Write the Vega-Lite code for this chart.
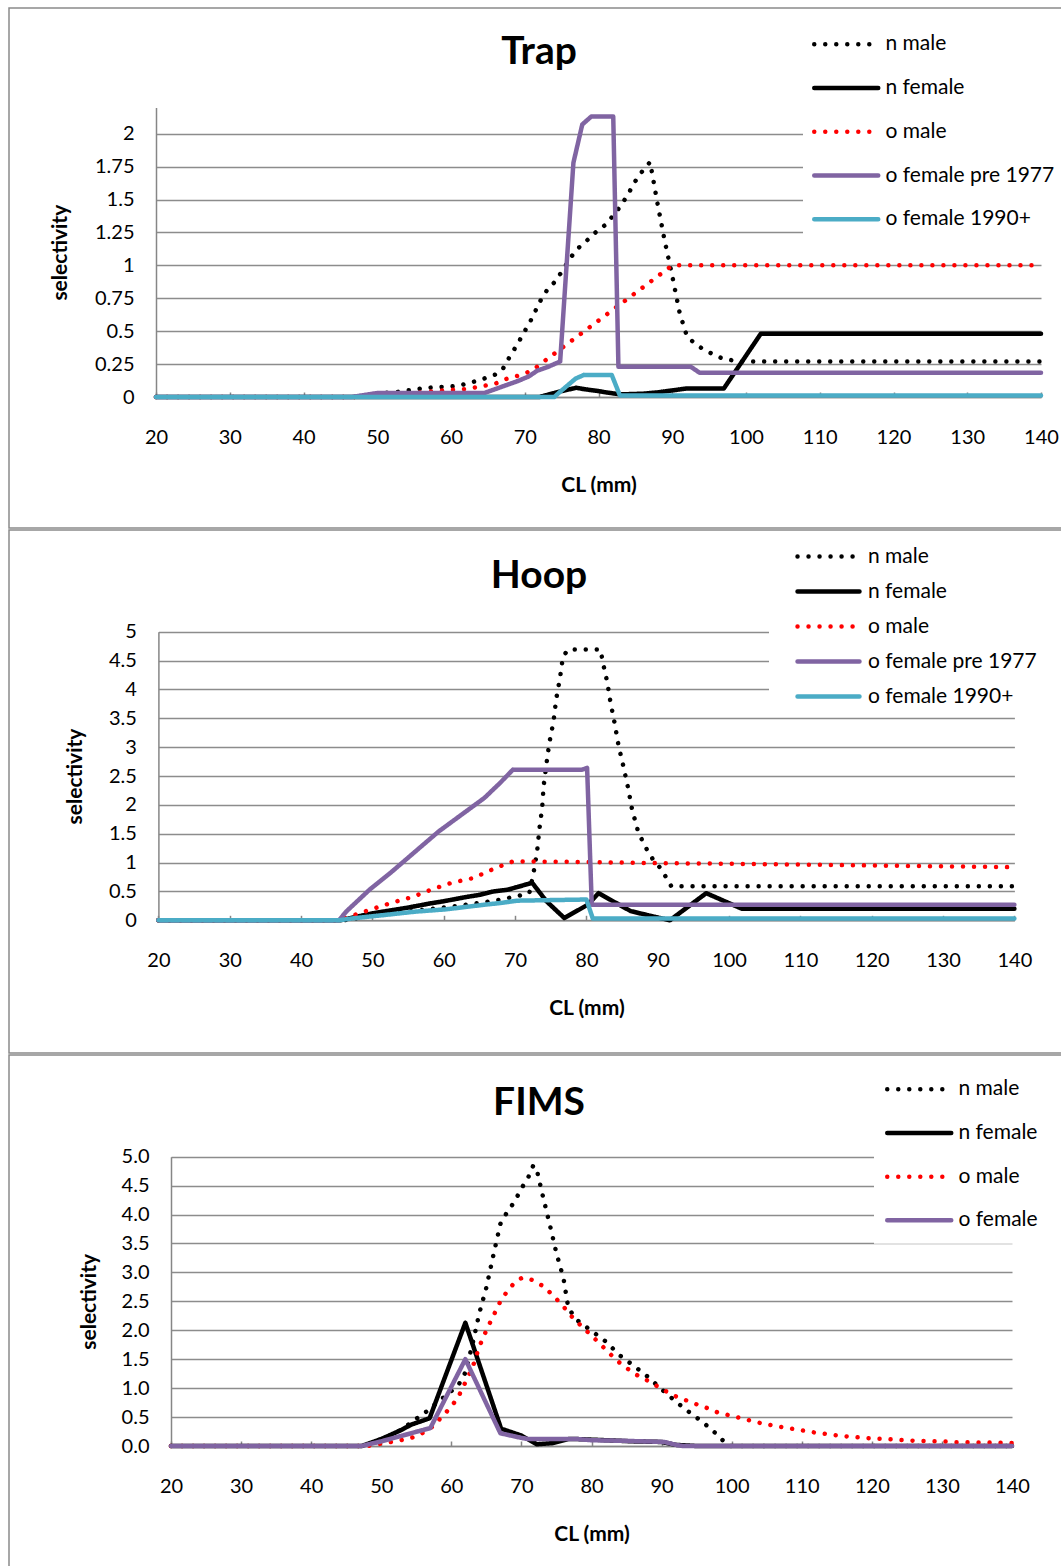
{
  "$schema": "https://vega.github.io/schema/vega-lite/v6.json",
  "background": "white",
  "padding": {"left": 8, "top": 7, "right": 0, "bottom": 0},
  "config": {
    "font": "Lato",
    "view": {"stroke": "#8a8a8a", "strokeWidth": 1.5},
    "concat": {"spacing": 0},
    "axis": {"labelFont": "Lato", "labelFontSize": 20, "labelColor": "#000000", "titleFont": "Lato", "titleFontSize": 21, "titleFontWeight": "bold", "titleColor": "#000000", "domainColor": "#868686", "domainWidth": 1.5, "gridColor": "#8c8c8c", "gridWidth": 1.3, "tickColor": "#868686", "tickWidth": 1.5},
    "legend": {"labelFont": "Lato", "labelFontSize": 21, "labelColor": "#000000", "labelLimit": 0, "fillColor": "white", "symbolType": "M-4,0H4", "symbolStrokeWidth": 4.5, "zindex": 1},
    "title": {"font": "Lato", "fontSize": 39, "fontWeight": "bold", "color": "#000000", "anchor": "middle", "frame": "group"}
  },
  "datasets": {
    "trap": [
      {"s":"n male","x":20,"y":0},{"s":"n male","x":47,"y":0},{"s":"n male","x":48,"y":0.01},{"s":"n male","x":49,"y":0.015},{"s":"n male","x":50,"y":0.02},{"s":"n male","x":51,"y":0.03},{"s":"n male","x":52,"y":0.035},{"s":"n male","x":53,"y":0.04},{"s":"n male","x":54,"y":0.05},{"s":"n male","x":55,"y":0.055},{"s":"n male","x":56,"y":0.065},{"s":"n male","x":57,"y":0.07},{"s":"n male","x":58,"y":0.075},{"s":"n male","x":59,"y":0.077},{"s":"n male","x":60,"y":0.08},{"s":"n male","x":61,"y":0.085},{"s":"n male","x":62,"y":0.1},{"s":"n male","x":63,"y":0.115},{"s":"n male","x":64,"y":0.13},{"s":"n male","x":65,"y":0.15},{"s":"n male","x":66,"y":0.17},{"s":"n male","x":67,"y":0.21},{"s":"n male","x":68,"y":0.31},{"s":"n male","x":69,"y":0.4},{"s":"n male","x":70,"y":0.5},{"s":"n male","x":71,"y":0.6},{"s":"n male","x":72,"y":0.72},{"s":"n male","x":73,"y":0.81},{"s":"n male","x":74,"y":0.87},{"s":"n male","x":75,"y":0.95},{"s":"n male","x":76,"y":1.04},{"s":"n male","x":77,"y":1.12},{"s":"n male","x":78,"y":1.165},{"s":"n male","x":79,"y":1.22},{"s":"n male","x":80,"y":1.27},{"s":"n male","x":81,"y":1.31},{"s":"n male","x":82,"y":1.38},{"s":"n male","x":83,"y":1.45},{"s":"n male","x":84,"y":1.54},{"s":"n male","x":85,"y":1.64},{"s":"n male","x":86,"y":1.72},{"s":"n male","x":87,"y":1.785},{"s":"n male","x":88,"y":1.47},{"s":"n male","x":89,"y":1.18},{"s":"n male","x":90,"y":0.92},{"s":"n male","x":91,"y":0.64},{"s":"n male","x":92,"y":0.46},{"s":"n male","x":93,"y":0.41},{"s":"n male","x":94,"y":0.37},{"s":"n male","x":95,"y":0.34},{"s":"n male","x":96,"y":0.31},{"s":"n male","x":97,"y":0.29},{"s":"n male","x":98,"y":0.28},{"s":"n male","x":99,"y":0.27},{"s":"n male","x":140,"y":0.27},
      {"s":"n female","x":20,"y":0},{"s":"n female","x":72,"y":0},{"s":"n female","x":74,"y":0.03},{"s":"n female","x":75,"y":0.045},{"s":"n female","x":77,"y":0.07},{"s":"n female","x":78,"y":0.06},{"s":"n female","x":80,"y":0.045},{"s":"n female","x":81,"y":0.035},{"s":"n female","x":83,"y":0.02},{"s":"n female","x":86,"y":0.025},{"s":"n female","x":88,"y":0.035},{"s":"n female","x":90,"y":0.05},{"s":"n female","x":92,"y":0.065},{"s":"n female","x":97,"y":0.065},{"s":"n female","x":102,"y":0.48},{"s":"n female","x":140,"y":0.48},
      {"s":"o male","x":20,"y":0},{"s":"o male","x":47,"y":0},{"s":"o male","x":50,"y":0.01},{"s":"o male","x":53,"y":0.02},{"s":"o male","x":56,"y":0.035},{"s":"o male","x":59,"y":0.05},{"s":"o male","x":62,"y":0.06},{"s":"o male","x":64,"y":0.08},{"s":"o male","x":66,"y":0.1},{"s":"o male","x":67,"y":0.13},{"s":"o male","x":68,"y":0.145},{"s":"o male","x":69,"y":0.16},{"s":"o male","x":70,"y":0.18},{"s":"o male","x":71,"y":0.2},{"s":"o male","x":72,"y":0.245},{"s":"o male","x":90,"y":1.0},{"s":"o male","x":140,"y":1.0},
      {"s":"o female pre 1977","x":20,"y":0},{"s":"o female pre 1977","x":46.5,"y":0},{"s":"o female pre 1977","x":50,"y":0.03},{"s":"o female pre 1977","x":64.5,"y":0.03},{"s":"o female pre 1977","x":67,"y":0.08},{"s":"o female pre 1977","x":69,"y":0.12},{"s":"o female pre 1977","x":70.5,"y":0.155},{"s":"o female pre 1977","x":71.7,"y":0.2},{"s":"o female pre 1977","x":73.2,"y":0.23},{"s":"o female pre 1977","x":74.8,"y":0.27},{"s":"o female pre 1977","x":76.6,"y":1.78},{"s":"o female pre 1977","x":77.8,"y":2.07},{"s":"o female pre 1977","x":79,"y":2.13},{"s":"o female pre 1977","x":82,"y":2.13},{"s":"o female pre 1977","x":82.7,"y":0.23},{"s":"o female pre 1977","x":92.5,"y":0.23},{"s":"o female pre 1977","x":93.7,"y":0.185},{"s":"o female pre 1977","x":140,"y":0.185},
      {"s":"o female 1990+","x":20,"y":0},{"s":"o female 1990+","x":74,"y":0},{"s":"o female 1990+","x":74.8,"y":0.04},{"s":"o female 1990+","x":76.9,"y":0.14},{"s":"o female 1990+","x":78,"y":0.167},{"s":"o female 1990+","x":81.8,"y":0.167},{"s":"o female 1990+","x":82.9,"y":0.012},{"s":"o female 1990+","x":140,"y":0.012}
    ],
    "hoop": [
      {"s":"n male","x":20,"y":0},{"s":"n male","x":46,"y":0},{"s":"n male","x":50,"y":0.08},{"s":"n male","x":55,"y":0.15},{"s":"n male","x":60,"y":0.22},{"s":"n male","x":65,"y":0.3},{"s":"n male","x":68,"y":0.36},{"s":"n male","x":70,"y":0.41},{"s":"n male","x":72,"y":0.47},{"s":"n male","x":72.6,"y":0.83},{"s":"n male","x":73.1,"y":1.2},{"s":"n male","x":73.4,"y":1.57},{"s":"n male","x":73.8,"y":1.95},{"s":"n male","x":74,"y":2.32},{"s":"n male","x":74.4,"y":2.71},{"s":"n male","x":74.8,"y":3.07},{"s":"n male","x":75.4,"y":3.45},{"s":"n male","x":75.75,"y":3.82},{"s":"n male","x":76.3,"y":4.2},{"s":"n male","x":76.7,"y":4.56},{"s":"n male","x":77.4,"y":4.69},{"s":"n male","x":82,"y":4.69},{"s":"n male","x":82.25,"y":4.5},{"s":"n male","x":82.9,"y":4.14},{"s":"n male","x":83.4,"y":3.76},{"s":"n male","x":84,"y":3.39},{"s":"n male","x":84.5,"y":3.03},{"s":"n male","x":85.2,"y":2.66},{"s":"n male","x":85.85,"y":2.29},{"s":"n male","x":86.4,"y":1.92},{"s":"n male","x":87.2,"y":1.56},{"s":"n male","x":87.8,"y":1.39},{"s":"n male","x":88.5,"y":1.22},{"s":"n male","x":89.3,"y":1.06},{"s":"n male","x":90.4,"y":0.9},{"s":"n male","x":91.2,"y":0.74},{"s":"n male","x":91.9,"y":0.59},{"s":"n male","x":140,"y":0.59},
      {"s":"n female","x":20,"y":0},{"s":"n female","x":45.5,"y":0},{"s":"n female","x":47,"y":0.04},{"s":"n female","x":50,"y":0.12},{"s":"n female","x":53,"y":0.18},{"s":"n female","x":55,"y":0.22},{"s":"n female","x":58,"y":0.29},{"s":"n female","x":60,"y":0.33},{"s":"n female","x":63,"y":0.4},{"s":"n female","x":65,"y":0.44},{"s":"n female","x":67,"y":0.5},{"s":"n female","x":69,"y":0.53},{"s":"n female","x":71,"y":0.6},{"s":"n female","x":72.4,"y":0.65},{"s":"n female","x":74.4,"y":0.33},{"s":"n female","x":76.9,"y":0.04},{"s":"n female","x":80.2,"y":0.27},{"s":"n female","x":81.7,"y":0.47},{"s":"n female","x":86.2,"y":0.16},{"s":"n female","x":89.2,"y":0.07},{"s":"n female","x":91.7,"y":0},{"s":"n female","x":96.8,"y":0.47},{"s":"n female","x":101.8,"y":0.2},{"s":"n female","x":140,"y":0.2},
      {"s":"o male","x":20,"y":0},{"s":"o male","x":45.5,"y":0},{"s":"o male","x":46.9,"y":0.07},{"s":"o male","x":49.6,"y":0.18},{"s":"o male","x":52.6,"y":0.3},{"s":"o male","x":55.5,"y":0.4},{"s":"o male","x":58.2,"y":0.53},{"s":"o male","x":61.1,"y":0.65},{"s":"o male","x":64.1,"y":0.73},{"s":"o male","x":66.8,"y":0.88},{"s":"o male","x":68.4,"y":0.96},{"s":"o male","x":69.7,"y":1.02},{"s":"o male","x":80,"y":1.01},{"s":"o male","x":90,"y":0.99},{"s":"o male","x":100,"y":0.98},{"s":"o male","x":110,"y":0.965},{"s":"o male","x":120,"y":0.95},{"s":"o male","x":130,"y":0.935},{"s":"o male","x":140,"y":0.92},
      {"s":"o female pre 1977","x":20,"y":0},{"s":"o female pre 1977","x":45.3,"y":0},{"s":"o female pre 1977","x":46.4,"y":0.16},{"s":"o female pre 1977","x":49.6,"y":0.53},{"s":"o female pre 1977","x":52.8,"y":0.85},{"s":"o female pre 1977","x":56,"y":1.19},{"s":"o female pre 1977","x":59.3,"y":1.54},{"s":"o female pre 1977","x":62.5,"y":1.83},{"s":"o female pre 1977","x":65.7,"y":2.12},{"s":"o female pre 1977","x":67.9,"y":2.38},{"s":"o female pre 1977","x":69.7,"y":2.61},{"s":"o female pre 1977","x":79.4,"y":2.61},{"s":"o female pre 1977","x":80.1,"y":2.64},{"s":"o female pre 1977","x":80.75,"y":0.27},{"s":"o female pre 1977","x":140,"y":0.27},
      {"s":"o female 1990+","x":20,"y":0},{"s":"o female 1990+","x":45.3,"y":0},{"s":"o female 1990+","x":47,"y":0.03},{"s":"o female 1990+","x":52.3,"y":0.1},{"s":"o female 1990+","x":56,"y":0.15},{"s":"o female 1990+","x":60.3,"y":0.19},{"s":"o female 1990+","x":65.7,"y":0.27},{"s":"o female 1990+","x":68,"y":0.3},{"s":"o female 1990+","x":70.3,"y":0.34},{"s":"o female 1990+","x":80,"y":0.36},{"s":"o female 1990+","x":80.9,"y":0.03},{"s":"o female 1990+","x":140,"y":0.03}
    ],
    "fims": [
      {"s":"n male","x":20,"y":0},{"s":"n male","x":47,"y":0},{"s":"n male","x":48,"y":0.02},{"s":"n male","x":50,"y":0.12},{"s":"n male","x":52,"y":0.22},{"s":"n male","x":53,"y":0.3},{"s":"n male","x":54,"y":0.38},{"s":"n male","x":55,"y":0.47},{"s":"n male","x":56,"y":0.55},{"s":"n male","x":57,"y":0.65},{"s":"n male","x":58,"y":0.75},{"s":"n male","x":59,"y":0.85},{"s":"n male","x":60,"y":0.95},{"s":"n male","x":61,"y":1.05},{"s":"n male","x":62,"y":1.27},{"s":"n male","x":63,"y":1.75},{"s":"n male","x":64,"y":2.3},{"s":"n male","x":65,"y":2.74},{"s":"n male","x":66,"y":3.3},{"s":"n male","x":67,"y":3.84},{"s":"n male","x":68,"y":4.05},{"s":"n male","x":69,"y":4.22},{"s":"n male","x":70,"y":4.45},{"s":"n male","x":71,"y":4.65},{"s":"n male","x":71.7,"y":4.85},{"s":"n male","x":72.2,"y":4.77},{"s":"n male","x":73,"y":4.35},{"s":"n male","x":74,"y":3.85},{"s":"n male","x":75,"y":3.33},{"s":"n male","x":76,"y":2.9},{"s":"n male","x":76.7,"y":2.38},{"s":"n male","x":78,"y":2.17},{"s":"n male","x":80,"y":1.99},{"s":"n male","x":82,"y":1.81},{"s":"n male","x":84,"y":1.57},{"s":"n male","x":86,"y":1.39},{"s":"n male","x":88,"y":1.2},{"s":"n male","x":90,"y":0.98},{"s":"n male","x":92,"y":0.77},{"s":"n male","x":94,"y":0.58},{"s":"n male","x":96,"y":0.4},{"s":"n male","x":98,"y":0.19},{"s":"n male","x":99.5,"y":0},{"s":"n male","x":140,"y":0},
      {"s":"n female","x":20,"y":0},{"s":"n female","x":47.2,"y":0},{"s":"n female","x":50,"y":0.12},{"s":"n female","x":52.9,"y":0.28},{"s":"n female","x":54.3,"y":0.37},{"s":"n female","x":56.9,"y":0.48},{"s":"n female","x":62,"y":2.13},{"s":"n female","x":67.1,"y":0.3},{"s":"n female","x":70,"y":0.18},{"s":"n female","x":72.2,"y":0.03},{"s":"n female","x":74.5,"y":0.05},{"s":"n female","x":76.7,"y":0.12},{"s":"n female","x":78,"y":0.12},{"s":"n female","x":82,"y":0.1},{"s":"n female","x":86,"y":0.08},{"s":"n female","x":90,"y":0.07},{"s":"n female","x":92,"y":0.02},{"s":"n female","x":95,"y":0},{"s":"n female","x":140,"y":0},
      {"s":"o male","x":20,"y":0},{"s":"o male","x":48,"y":0},{"s":"o male","x":50,"y":0.04},{"s":"o male","x":52,"y":0.08},{"s":"o male","x":54,"y":0.13},{"s":"o male","x":55,"y":0.17},{"s":"o male","x":56,"y":0.23},{"s":"o male","x":57,"y":0.3},{"s":"o male","x":58,"y":0.42},{"s":"o male","x":59,"y":0.55},{"s":"o male","x":60,"y":0.68},{"s":"o male","x":61,"y":0.85},{"s":"o male","x":62,"y":1.1},{"s":"o male","x":63,"y":1.35},{"s":"o male","x":64,"y":1.72},{"s":"o male","x":65,"y":2.0},{"s":"o male","x":66,"y":2.25},{"s":"o male","x":67,"y":2.5},{"s":"o male","x":68,"y":2.68},{"s":"o male","x":69,"y":2.82},{"s":"o male","x":70,"y":2.9},{"s":"o male","x":71,"y":2.9},{"s":"o male","x":72,"y":2.84},{"s":"o male","x":73,"y":2.77},{"s":"o male","x":74,"y":2.66},{"s":"o male","x":75,"y":2.54},{"s":"o male","x":76,"y":2.41},{"s":"o male","x":77,"y":2.26},{"s":"o male","x":78,"y":2.14},{"s":"o male","x":79,"y":2.02},{"s":"o male","x":80,"y":1.91},{"s":"o male","x":81,"y":1.79},{"s":"o male","x":82,"y":1.67},{"s":"o male","x":83,"y":1.55},{"s":"o male","x":84,"y":1.44},{"s":"o male","x":85,"y":1.35},{"s":"o male","x":86,"y":1.26},{"s":"o male","x":87,"y":1.19},{"s":"o male","x":88,"y":1.13},{"s":"o male","x":89,"y":1.06},{"s":"o male","x":90,"y":0.99},{"s":"o male","x":91,"y":0.92},{"s":"o male","x":92,"y":0.86},{"s":"o male","x":93,"y":0.81},{"s":"o male","x":94,"y":0.77},{"s":"o male","x":95,"y":0.72},{"s":"o male","x":96,"y":0.68},{"s":"o male","x":97,"y":0.63},{"s":"o male","x":98,"y":0.58},{"s":"o male","x":99,"y":0.55},{"s":"o male","x":100,"y":0.52},{"s":"o male","x":102,"y":0.46},{"s":"o male","x":104,"y":0.4},{"s":"o male","x":106,"y":0.35},{"s":"o male","x":108,"y":0.31},{"s":"o male","x":110,"y":0.27},{"s":"o male","x":112,"y":0.23},{"s":"o male","x":114,"y":0.2},{"s":"o male","x":116,"y":0.17},{"s":"o male","x":118,"y":0.15},{"s":"o male","x":120,"y":0.13},{"s":"o male","x":122,"y":0.12},{"s":"o male","x":124,"y":0.105},{"s":"o male","x":126,"y":0.09},{"s":"o male","x":128,"y":0.085},{"s":"o male","x":130,"y":0.08},{"s":"o male","x":132,"y":0.065},{"s":"o male","x":134,"y":0.063},{"s":"o male","x":136,"y":0.062},{"s":"o male","x":138,"y":0.055},{"s":"o male","x":140,"y":0.05},
      {"s":"o female","x":20,"y":0},{"s":"o female","x":47.2,"y":0},{"s":"o female","x":50,"y":0.08},{"s":"o female","x":57,"y":0.31},{"s":"o female","x":62,"y":1.5},{"s":"o female","x":67,"y":0.22},{"s":"o female","x":70,"y":0.14},{"s":"o female","x":71,"y":0.12},{"s":"o female","x":78,"y":0.12},{"s":"o female","x":80,"y":0.1},{"s":"o female","x":84.4,"y":0.09},{"s":"o female","x":90.4,"y":0.07},{"s":"o female","x":92,"y":0.02},{"s":"o female","x":93,"y":0},{"s":"o female","x":140,"y":0}
    ]
  },
  "vconcat": [
    {
      "width": 1060, "height": 520,
      "data": {"name": "trap"},
      "title": {"text": "Trap", "offset": -95, "baseline": "alphabetic"},
      "mark": {"type": "line", "strokeWidth": 4.5, "strokeCap": "round", "strokeJoin": "round"},
      "encoding": {
        "x": {"field": "x", "type": "quantitative", "scale": {"domain": [20, 140], "range": [147, 1032], "nice": false, "zero": false},
              "axis": {"title": "CL (mm)", "values": [20,30,40,50,60,70,80,90,100,110,120,130,140], "offset": -131, "grid": false, "tickSize": -5, "labelPadding": 35, "labelFlush": false, "titlePadding": 27}},
        "y": {"field": "y", "type": "quantitative", "scale": {"domain": [0, 2.2], "range": [389, 99.4], "nice": false, "zero": false},
              "axis": {"title": "selectivity", "values": [0,0.25,0.5,0.75,1,1.25,1.5,1.75,2], "format": ".3~g", "offset": -147, "grid": true, "ticks": false, "labelPadding": 22, "titlePadding": 24}},
        "color": {"field": "s", "type": "nominal",
                  "scale": {"domain": ["n male","n female","o male","o female pre 1977","o female 1990+"], "range": ["#000000","#000000","#ff0000","#8064a2","#4bacc6"]},
                  "legend": {"title": null, "orient": "none", "legendX": 794, "legendY": 14.75, "padding": 11, "symbolSize": 256, "symbolOffset": 21.75, "labelOffset": 28.75, "rowPadding": 21.75, "encoding": {"symbols": {"strokeCap": {"value": "round"}}}}},
        "strokeDash": {"field": "s", "type": "nominal",
                  "scale": {"domain": ["n male","n female","o male","o female pre 1977","o female 1990+"], "range": [[0.01,11],[1,0],[0.01,11],[1,0],[1,0]]},
                  "legend": {"title": null, "orient": "none", "legendX": 794, "legendY": 14.75, "padding": 11, "symbolSize": 256, "symbolOffset": 21.75, "labelOffset": 28.75, "rowPadding": 21.75, "encoding": {"symbols": {"strokeCap": {"value": "round"}}}}}
      }
    },
    {
      "width": 1060, "height": 523,
      "data": {"name": "hoop"},
      "title": {"text": "Hoop", "offset": -97, "baseline": "alphabetic"},
      "mark": {"type": "line", "strokeWidth": 4.5, "strokeCap": "round", "strokeJoin": "round"},
      "encoding": {
        "x": {"field": "x", "type": "quantitative", "scale": {"domain": [20, 140], "range": [149.4, 1005.4], "nice": false, "zero": false},
              "axis": {"title": "CL (mm)", "values": [20,30,40,50,60,70,80,90,100,110,120,130,140], "offset": -132.7, "grid": false, "tickSize": -5, "labelPadding": 35, "labelFlush": false, "titlePadding": 27}},
        "y": {"field": "y", "type": "quantitative", "scale": {"domain": [0, 5], "range": [390.3, 101.7], "nice": false, "zero": false},
              "axis": {"title": "selectivity", "values": [0,0.5,1,1.5,2,2.5,3,3.5,4,4.5,5], "format": ".3~g", "offset": -149.4, "grid": true, "ticks": false, "labelPadding": 22, "titlePadding": 23}},
        "color": {"field": "s", "type": "nominal",
                  "scale": {"domain": ["n male","n female","o male","o female pre 1977","o female 1990+"], "range": ["#000000","#000000","#ff0000","#8064a2","#4bacc6"]},
                  "legend": {"title": null, "orient": "none", "legendX": 760, "legendY": 11, "padding": 5, "symbolSize": 240, "symbolOffset": 44, "labelOffset": 29, "rowPadding": 13, "encoding": {"symbols": {"strokeCap": {"value": "round"}}}}},
        "strokeDash": {"field": "s", "type": "nominal",
                  "scale": {"domain": ["n male","n female","o male","o female pre 1977","o female 1990+"], "range": [[0.01,11],[1,0],[0.01,11],[1,0],[1,0]]},
                  "legend": {"title": null, "orient": "none", "legendX": 760, "legendY": 11, "padding": 5, "symbolSize": 240, "symbolOffset": 44, "labelOffset": 29, "rowPadding": 13, "encoding": {"symbols": {"strokeCap": {"value": "round"}}}}}
      }
    },
    {
      "width": 1060, "height": 530,
      "data": {"name": "fims"},
      "title": {"text": "FIMS", "offset": -99, "baseline": "alphabetic"},
      "mark": {"type": "line", "strokeWidth": 4.5, "strokeCap": "round", "strokeJoin": "round"},
      "encoding": {
        "x": {"field": "x", "type": "quantitative", "scale": {"domain": [20, 140], "range": [162, 1003], "nice": false, "zero": false},
              "axis": {"title": "CL (mm)", "values": [20,30,40,50,60,70,80,90,100,110,120,130,140], "offset": -139, "grid": false, "tickSize": -5, "labelPadding": 35, "labelFlush": false, "titlePadding": 27}},
        "y": {"field": "y", "type": "quantitative", "scale": {"domain": [0, 5], "range": [391, 101.7], "nice": false, "zero": false},
              "axis": {"title": "selectivity", "values": [0,0.5,1,1.5,2,2.5,3,3.5,4,4.5,5], "format": ".1f", "offset": -162, "grid": true, "ticks": false, "labelPadding": 22, "titlePadding": 22}},
        "color": {"field": "s", "type": "nominal",
                  "scale": {"domain": ["n male","n female","o male","o female"], "range": ["#000000","#000000","#ff0000","#8064a2"]},
                  "legend": {"title": null, "orient": "none", "legendX": 865, "legendY": 10.75, "padding": 13, "symbolSize": 256, "symbolOffset": 21.75, "labelOffset": 28.75, "rowPadding": 21.7, "encoding": {"symbols": {"strokeCap": {"value": "round"}}}}},
        "strokeDash": {"field": "s", "type": "nominal",
                  "scale": {"domain": ["n male","n female","o male","o female"], "range": [[0.01,11],[1,0],[0.01,11],[1,0]]},
                  "legend": {"title": null, "orient": "none", "legendX": 865, "legendY": 10.75, "padding": 13, "symbolSize": 256, "symbolOffset": 21.75, "labelOffset": 28.75, "rowPadding": 21.7, "encoding": {"symbols": {"strokeCap": {"value": "round"}}}}}
      }
    }
  ],
  "resolve": {"scale": {"color": "independent", "strokeDash": "independent"}, "legend": {"color": "independent", "strokeDash": "independent"}}
}
